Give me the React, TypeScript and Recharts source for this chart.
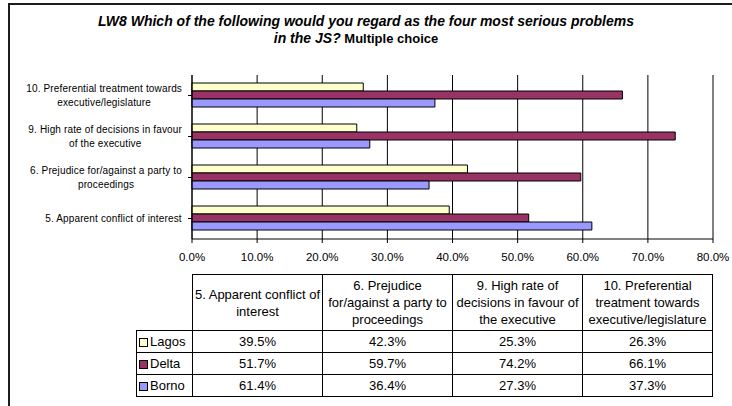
import React from 'react';
import {
  BarChart,
  Bar,
  XAxis,
  YAxis,
  CartesianGrid,
} from 'recharts';

// ---------------------------------------------------------------------------
// Data
// ---------------------------------------------------------------------------
const categories = [
  '5. Apparent conflict of interest',
  '6. Prejudice for/against a party to proceedings',
  '9. High rate of decisions in favour of the executive',
  '10. Preferential treatment towards executive/legislature',
];
// how the category names break on the value axis
const axisLabelLines = [
  ['5. Apparent conflict of interest'],
  ['6. Prejudice for/against a party to', 'proceedings'],
  ['9. High rate of decisions in favour', 'of the executive'],
  ['10. Preferential treatment towards', 'executive/legislature'],
];
// how they break in the data table header
const headerLines = [
  ['5. Apparent conflict of', 'interest'],
  ['6. Prejudice', 'for/against a party to', 'proceedings'],
  ['9. High rate of', 'decisions in favour of', 'the executive'],
  ['10. Preferential', 'treatment towards', 'executive/legislature'],
];
const seriesNames = ['Lagos', 'Delta', 'Borno'];
const lagos = [39.5, 42.3, 25.3, 26.3];
const delta = [51.7, 59.7, 74.2, 66.1];
const borno = [61.4, 36.4, 27.3, 37.3];
const xTicks = [0, 10, 20, 30, 40, 50, 60, 70, 80];

const seriesValues = [lagos, delta, borno];
const colors = ['#FFFFCC', '#993366', '#9999FF'];

const chartData = categories.map((name, i) => ({
  name,
  Lagos: lagos[i],
  Delta: delta[i],
  Borno: borno[i],
}));

const FONT = '"Liberation Sans", Arial, sans-serif';
const LABEL_SIZE = 10;
const LABEL_SPACING = 0.15;

// measure label width so multi-line labels are centred on each other
let measureCtx: CanvasRenderingContext2D | null = null;
function textWidth(s: string): number {
  if (!measureCtx) {
    measureCtx = document.createElement('canvas').getContext('2d');
  }
  if (!measureCtx) return s.length * 4.6;
  measureCtx.font = `${LABEL_SIZE}px ${FONT}`;
  return measureCtx.measureText(s).width + s.length * LABEL_SPACING;
}

function CategoryTick(props: any) {
  const { x, y, payload } = props;
  const idx = categories.indexOf(payload.value);
  const lines = axisLabelLines[idx] || [payload.value];
  const w = Math.max(...lines.map(textWidth));
  const cx = x - 4 - w / 2;
  const lh = 13.4;
  return (
    <g>
      {lines.map((line, k) => (
        <text
          key={k}
          x={cx}
          y={y + (k - (lines.length - 1) / 2) * lh}
          dy="0.35em"
          textAnchor="middle"
          fontSize={LABEL_SIZE}
          letterSpacing={LABEL_SPACING}
          fill="#000"
          fontFamily={FONT}
        >
          {line}
        </text>
      ))}
    </g>
  );
}

// ---------------------------------------------------------------------------
// Data table under the chart
// ---------------------------------------------------------------------------
const cell: React.CSSProperties = {
  border: '1px solid #000',
  padding: 0,
  textAlign: 'center',
  verticalAlign: 'middle',
};

function DataTable() {
  return (
    <table
      style={{
        position: 'absolute',
        left: 136,
        top: 274,
        borderCollapse: 'collapse',
        tableLayout: 'fixed',
        fontFamily: FONT,
        fontSize: 13,
        color: '#000',
      }}
    >
      <colgroup>
        <col style={{ width: 56 }} />
        {categories.map((c) => (
          <col key={c} style={{ width: 130 }} />
        ))}
      </colgroup>
      <tbody>
        <tr style={{ height: 56 }}>
          <td style={{ padding: 0, border: 'none' }} />
          {headerLines.map((lines, i) => (
            <td key={i} style={{ ...cell, lineHeight: '17px', whiteSpace: 'nowrap' }}>
              {lines.map((l, k) => (
                <div key={k}>{l}</div>
              ))}
            </td>
          ))}
        </tr>
        {seriesNames.map((s, si) => (
          <tr key={s} style={{ height: 22 }}>
            <td style={{ ...cell, textAlign: 'left', whiteSpace: 'nowrap' }}>
              <span
                style={{
                  display: 'inline-block',
                  width: 7,
                  height: 7,
                  border: '1px solid #000',
                  background: colors[si],
                  margin: '0 2px 0 2px',
                  verticalAlign: '-1px',
                }}
              />
              {s}
            </td>
            {seriesValues[si].map((v, i) => (
              <td key={i} style={cell}>
                {v.toFixed(1)}%
              </td>
            ))}
          </tr>
        ))}
      </tbody>
    </table>
  );
}

// ---------------------------------------------------------------------------
// Component
// ---------------------------------------------------------------------------
export default function App(): React.JSX.Element {
  return (
    <div
      style={{
        position: 'fixed',
        left: 0,
        top: 0,
        width: 732,
        height: 406,
        background: '#fff',
        overflow: 'hidden',
        fontFamily: FONT,
      }}
    >
      {/* outer chart frame, only the top and left edges are in view */}
      <div
        style={{
          position: 'absolute',
          left: 8,
          top: 3,
          width: 800,
          height: 500,
          border: '2px solid #1c1c1c',
        }}
      />

      <div
        style={{
          position: 'absolute',
          left: 0,
          top: 13,
          width: 732,
          textAlign: 'center',
          fontSize: 14,
          fontWeight: 700,
          lineHeight: '17px',
          color: '#000',
        }}
      >
        <div style={{ fontStyle: 'italic' }}>
          LW8 Which of the following would you regard as the four most serious problems
        </div>
        <div style={{ paddingRight: 20 }}>
          <span style={{ fontStyle: 'italic' }}>in the JS?</span>
          <span style={{ fontSize: 13 }}> Multiple choice</span>
        </div>
      </div>

      <div style={{ position: 'absolute', left: 0, top: 0 }}>
        <BarChart
          width={732}
          height={275}
          data={chartData}
          layout="vertical"
          margin={{ top: 75, right: 19, left: 0, bottom: 6 }}
          barCategoryGap={8}
          barGap={0}
        >
          <CartesianGrid horizontal={false} stroke="#000" strokeWidth={1} />
          <XAxis
            type="number"
            domain={[0, 80]}
            ticks={xTicks}
            interval={0}
            height={30}
            tickSize={4}
            tickMargin={10}
            axisLine={{ stroke: '#000' }}
            tickLine={{ stroke: '#000' }}
            tick={{ fill: '#000', fontSize: 11.5, fontFamily: FONT }}
            tickFormatter={(v: number) => `${v.toFixed(1)}%`}
          />
          <XAxis
            xAxisId="top"
            orientation="top"
            type="number"
            domain={[0, 80]}
            height={0}
            tick={false}
            tickLine={false}
            axisLine={{ stroke: '#a0a0a0' }}
          />
          <YAxis
            type="category"
            dataKey="name"
            reversed
            width={192}
            tickSize={4}
            tickMargin={2}
            interval={0}
            axisLine={{ stroke: '#000' }}
            tickLine={{ stroke: '#000' }}
            tick={<CategoryTick />}
          />
          <YAxis
            yAxisId="right"
            orientation="right"
            type="category"
            dataKey="name"
            width={0}
            tick={false}
            tickLine={false}
            axisLine={{ stroke: '#a0a0a0' }}
          />
          {seriesNames.map((s, i) => (
            <Bar
              key={s}
              dataKey={s}
              fill={colors[i]}
              stroke="#000"
              strokeWidth={1}
              isAnimationActive={false}
            />
          ))}
        </BarChart>
      </div>

      <DataTable />
    </div>
  );
}
